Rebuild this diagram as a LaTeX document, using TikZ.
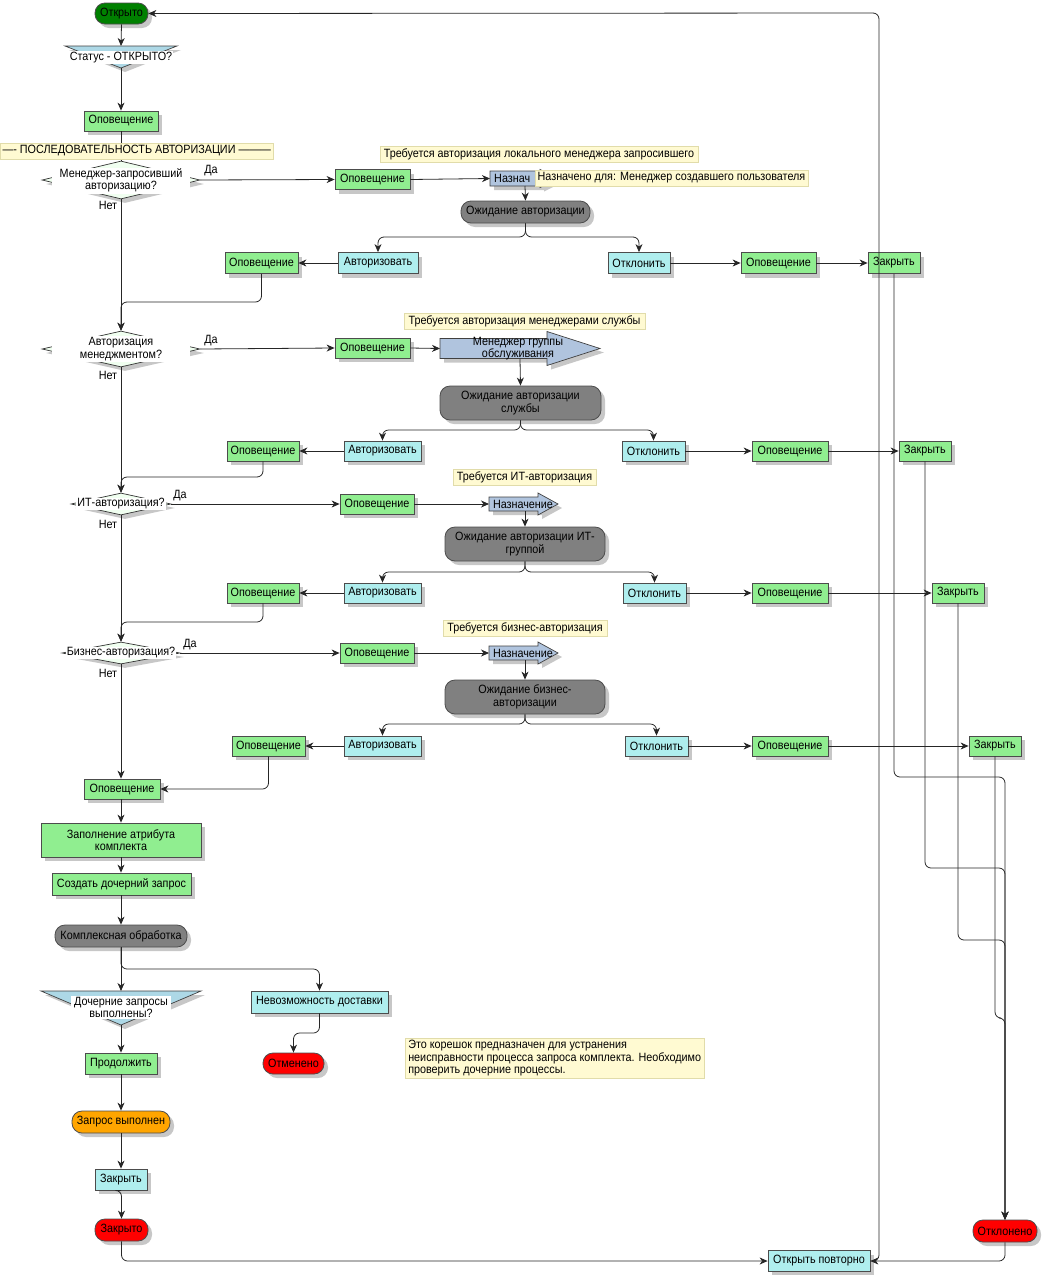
\documentclass[tikz,border=0pt]{standalone}
\usepackage{fontspec}
\setmainfont{Liberation Sans}[FakeStretch=0.9]
\usetikzlibrary{shapes.geometric,shadows,arrows.meta,calc}
\definecolor{dgreen}{RGB}{0,128,0}
\definecolor{lgreen}{RGB}{144,238,144}
\definecolor{pturq}{RGB}{175,238,238}
\definecolor{dgray}{RGB}{128,128,128}
\definecolor{redf}{RGB}{255,0,0}
\definecolor{orf}{RGB}{255,165,0}
\definecolor{lsteel}{RGB}{176,196,222}
\definecolor{lblue}{RGB}{173,216,230}
\definecolor{hdew}{RGB}{240,255,240}
\definecolor{notef}{RGB}{255,250,210}
\definecolor{noteb}{RGB}{225,220,170}
\newcommand\myfs{\fontsize{12}{12.5}\selectfont}
\newcommand\sig[6]{%
 \fill[black!22] ({#1+4},{#4-#5+4}) -- ({#2+4},{#4-#5+4}) -- ({#2+4},{#4-#6+4}) -- ({#3+4},{#4+4}) -- ({#2+4},{#4+#6+4}) -- ({#2+4},{#4+#5+4}) -- ({#1+4},{#4+#5+4}) -- cycle;
 \draw[fill=lsteel, draw=black!75, line width=0.7pt] (#1,{#4-#5}) -- (#2,{#4-#5}) -- (#2,{#4-#6}) -- (#3,#4) -- (#2,{#4+#6}) -- (#2,{#4+#5}) -- (#1,{#4+#5}) -- cycle;}
\begin{document}
\begin{tikzpicture}[x=1pt,y=-1pt,
 wh/.style 2 args={minimum width=#1pt, minimum height=#2pt},
 box/.style={draw=black!70, line width=0.8pt, inner sep=1pt, align=center, font=\myfs,
   drop shadow={shadow xshift=4pt, shadow yshift=-4pt, fill=black!22, opacity=1}},
 gbox/.style={box, fill=lgreen},
 cbox/.style={box, fill=pturq},
 pill/.style={box, rounded corners=10pt},
 gpill/.style={pill, fill=dgray},
 note/.style={draw=noteb, fill=notef, line width=0.5pt, font=\myfs, inner sep=2pt},
 dia/.style={diamond, draw=black!80, fill=hdew, line width=0.7pt, inner sep=0pt,
   drop shadow={shadow xshift=4pt, shadow yshift=-4pt, fill=black!22, opacity=1}},
 dlab/.style={fill=white, inner sep=1pt, font=\myfs, align=center},
 lab/.style={font=\myfs, inner sep=0pt},
 conn/.style={line width=0.8pt, draw=black!85, rounded corners=6pt, -{Stealth[length=8pt,width=7pt,inset=2.5pt]}},
 ln/.style={line width=0.8pt, draw=black!85, rounded corners=6pt}]
\useasboundingbox (0,0) rectangle (1042,1275);

% ---------- main column top
\node[pill, fill=dgreen, wh={53}{21}] (otk) at (121.5,13.5) {Открыто};
\fill[black!22] (69,50) -- (181,50) -- (125,72) -- cycle;
\draw[fill=lblue, draw=black!75, line width=0.7pt] (65,46) -- (177,46) -- (121,68) -- cycle;
\coordinate (stT) at (121,46);
\coordinate (stB) at (121,68);
\node[dlab, minimum width=104pt] (stL) at (121,57.5) {Статус - ОТКРЫТО?};
\node[gbox, wh={74}{20}] (o0) at (121,121) {Оповещение};

% ---------- decision 1
\node[dia, wh={158}{38}] (d1) at (121,180) {};
\node[dlab, wh={138}{26}] (d1l) at (121,180.5) {Менеджер-запросивший\\авторизацию?};
\node[lab] (y1) at (211,171) {Да};
\node[lab] (no1) at (108,205) {Нет};
\node[gbox, wh={75}{20}] (o1) at (372.5,179.5) {Оповещение};
\sig{490}{540}{558}{178.5}{7.5}{9}
\node[lab, anchor=west] (n1) at (494,178.5) {Назнач};
\coordinate (n1w) at (490,178.5);
\coordinate (n1s) at (525,186);
\node[gpill, wh={129}{22}] (w1) at (525.5,212) {Ожидание авторизации};
\node[cbox, wh={80}{21}] (a1) at (378,263) {Авторизовать};
\node[gbox, wh={73}{21}] (o1l) at (261.5,263) {Оповещение};
\node[cbox, wh={62}{21}] (r1) at (639,263) {Отклонить};
\node[gbox, wh={75}{21}] (o1r) at (778.5,263) {Оповещение};
\node[gbox, wh={52}{21}] (z1) at (894,263) {Закрыть};

% ---------- decision 2
\node[dia, wh={158}{36}] (d2) at (121,349) {};
\node[dlab, wh={138}{25}] (d2l) at (121,349) {Авторизация\\менеджментом?};
\node[lab] (y2) at (211,341) {Да};
\node[lab] (no2) at (108,375) {Нет};
\node[gbox, wh={75}{20}] (o2) at (372.5,348) {Оповещение};
\sig{440}{547}{600}{348.5}{10}{17}
\node[lab, align=center] (n2) at (518,348.5) {Менеджер группы\\обслуживания};
\coordinate (n2w) at (440,348.5);
\coordinate (n2s) at (520,359);
\node[gpill, wh={161}{34}, align=center] (w2) at (520.5,403) {Ожидание авторизации\\службы};
\node[cbox, wh={77}{20}] (a2) at (382.5,451) {Авторизовать};
\node[gbox, wh={72}{20}] (o2l) at (263,451) {Оповещение};
\node[cbox, wh={63}{20}] (r2) at (653.5,451) {Отклонить};
\node[gbox, wh={76}{20}] (o2r) at (790,451) {Оповещение};
\node[gbox, wh={52}{20}] (z2) at (925,451) {Закрыть};

% ---------- decision 3
\node[dia, wh={100}{22}] (d3) at (121,504) {};
\node[dlab, minimum width=90pt] (d3l) at (121,504) {ИТ-авторизация?};
\node[lab] (y3) at (180,496) {Да};
\node[lab] (no3) at (108,524) {Нет};
\node[gbox, wh={74}{20}] (o3) at (377,504) {Оповещение};
\sig{489}{538}{558}{504}{7}{11}
\node[lab] (n3) at (523,504) {Назначение};
\coordinate (n3w) at (489,504);
\coordinate (n3s) at (525,511);
\node[gpill, wh={160}{34}] (w3) at (525,544) {Ожидание авторизации ИТ-\\группой};
\node[cbox, wh={77}{20}] (a3) at (382.5,593) {Авторизовать};
\node[gbox, wh={72}{20}] (o3l) at (263,593) {Оповещение};
\node[cbox, wh={63}{20}] (r3) at (654.5,593) {Отклонить};
\node[gbox, wh={76}{20}] (o3r) at (790,593) {Оповещение};
\node[gbox, wh={52}{20}] (z3) at (958,593) {Закрыть};

% ---------- decision 4
\node[dia, wh={118}{22}] (d4) at (121,653) {};
\node[dlab, minimum width=108pt] (d4l) at (121,653) {Бизнес-авторизация?};
\node[lab] (y4) at (190,645) {Да};
\node[lab] (no4) at (108,673) {Нет};
\node[gbox, wh={74}{20}] (o4) at (377,653) {Оповещение};
\sig{489}{538}{558}{653}{7}{11}
\node[lab] (n4) at (523,653) {Назначение};
\coordinate (n4w) at (489,653);
\coordinate (n4s) at (525,660);
\node[gpill, wh={160}{34}] (w4) at (525,697) {Ожидание бизнес-\\авторизации};
\node[cbox, wh={77}{20}] (a4) at (382.5,746) {Авторизовать};
\node[gbox, wh={73}{20}] (o4l) at (268.5,746) {Оповещение};
\node[cbox, wh={63}{20}] (r4) at (656.5,746) {Отклонить};
\node[gbox, wh={76}{20}] (o4r) at (790,746) {Оповещение};
\node[gbox, wh={52}{20}] (z4) at (995,746) {Закрыть};

% ---------- bottom column
\node[gbox, wh={76}{20}] (o5) at (122,789) {Оповещение};
\node[gbox, wh={160}{34}] (fa) at (121,840) {Заполнение атрибута\\комплекта};
\node[gbox, wh={139}{22}] (cr) at (121.5,884) {Создать дочерний запрос};
\node[gpill, wh={132}{22}] (ko) at (121,936) {Комплексная обработка};
\fill[black!22] (45,995) -- (205,995) -- (125,1029) -- cycle;
\draw[fill=lblue, draw=black!75, line width=0.7pt] (41,991) -- (201,991) -- (121,1025) -- cycle;
\coordinate (f2T) at (121,991);
\coordinate (f2B) at (121,1025);
\node[dlab, minimum width=100pt] (f2l) at (121,1007.5) {Дочерние запросы\\выполнены?};
\node[cbox, wh={137}{22}] (nv) at (319.5,1002) {Невозможность доставки};
\node[pill, fill=redf, wh={61}{21}] (ot) at (293.5,1063.5) {Отменено};
\node[gbox, wh={72}{21}] (pr) at (121,1063.5) {Продолжить};
\node[pill, fill=orf, wh={98}{22}] (zv) at (121,1122) {Запрос выполнен};
\node[cbox, wh={52}{21}] (zk) at (121,1179.5) {Закрыть};
\node[pill, fill=redf, wh={53}{22}] (zo) at (121.5,1230) {Закрыто};
\node[cbox, wh={102}{21}] (op) at (819,1261) {Открыть повторно};
\node[pill, fill=redf, wh={64}{22}] (ol) at (1005,1231) {Отклонено};

% ---------- connectors
\draw[conn] (otk.south) -- (stT);
\draw[conn] (stB) -- (o0.north);
\draw[ln] (o0.south) -- (d1.north);
% row 1
\draw[conn] (d1.south) -- (d2.north);
\draw[conn] (d1.east) -- (o1.west);
\draw[conn] (o1.east) -- (n1w);
\draw[conn] (n1s) -- (w1.north);
\draw[conn] (w1.south) -- (525.5,237) -| (a1.north);
\draw[conn] (w1.south) -- (525.5,237) -| (r1.north);
\draw[conn] (a1.west) -- (o1l.east);
\draw[conn] (o1l.south) -- (261.5,302) -- (121,302) -- (d2.north);
\draw[conn] (r1.east) -- (o1r.west);
\draw[conn] (o1r.east) -- (z1.west);
\draw[conn] (z1.south) -- (894,777) -- (1005,777) -- (ol.north);
% row 2
\draw[conn] (d2.south) -- (d3.north);
\draw[conn] (d2.east) -- (o2.west);
\draw[conn] (o2.east) -- (n2w);
\draw[conn] (n2s) -- (w2.north);
\draw[conn] (w2.south) -- (520.5,430) -| (a2.north);
\draw[conn] (w2.south) -- (520.5,430) -| (r2.north);
\draw[conn] (a2.west) -- (o2l.east);
\draw[conn] (o2l.south) -- (263,477) -- (121,477) -- (d3.north);
\draw[conn] (r2.east) -- (o2r.west);
\draw[conn] (o2r.east) -- (z2.west);
\draw[conn] (z2.south) -- (925,868) -- (1005,868) -- (ol.north);
% row 3
\draw[conn] (d3.south) -- (d4.north);
\draw[conn] (d3.east) -- (o3.west);
\draw[conn] (o3.east) -- (n3w);
\draw[conn] (n3s) -- (w3.north);
\draw[conn] (w3.south) -- (525,572) -| (a3.north);
\draw[conn] (w3.south) -- (525,572) -| (r3.north);
\draw[conn] (a3.west) -- (o3l.east);
\draw[conn] (o3l.south) -- (263,622) -- (121,622) -- (d4.north);
\draw[conn] (r3.east) -- (o3r.west);
\draw[conn] (o3r.east) -- (z3.west);
\draw[conn] (z3.south) -- (958,940) -- (1005,940) -- (ol.north);
% row 4
\draw[conn] (d4.south) -- (o5.north -| d4.south);
\draw[conn] (d4.east) -- (o4.west);
\draw[conn] (o4.east) -- (n4w);
\draw[conn] (n4s) -- (w4.north);
\draw[conn] (w4.south) -- (525,724) -| (a4.north);
\draw[conn] (w4.south) -- (525,724) -| (r4.north);
\draw[conn] (a4.west) -- (o4l.east);
\draw[conn] (o4l.south) |- (o5.east);
\draw[conn] (r4.east) -- (o4r.west);
\draw[conn] (o4r.east) -- (z4.west);
\draw[conn] (z4.south) -- (995,1018) -- (1005,1018) -- (ol.north);
% bottom
\draw[conn] (o5.south -| fa.north) -- (fa.north);
\draw[conn] (fa.south) -- (fa.south |- cr.north);
\draw[conn] (cr.south -| ko.north) -- (ko.north);
\draw[conn] (ko.south) -- (f2T);
\draw[conn] (ko.south) -- (121,969) -| (nv.north);
\draw[conn] (nv.south) -- (319.5,1033) -| (ot.north);
\draw[conn] (f2B) -- (pr.north);
\draw[conn] (pr.south) -- (zv.north);
\draw[conn] (zv.south) -- (zk.north);
\draw[conn] (zk.south) -- (zo.south |- zk.south) -- (zo.north);
\draw[conn] (zo.south) -- (121.5,1261) -- (op.west);
\draw[conn] (ol.south) -- (1005,1261) -- (op.east);
\draw[conn] (op.east) -- (879,1261) -- (879,13) -- (otk.east);

% ---------- notes (on top)
\node[note, wh={273}{16}, anchor=west] (ban) at (0,151) {---- ПОСЛЕДОВАТЕЛЬНОСТЬ АВТОРИЗАЦИИ ———};
\node[note, wh={318}{16}] (nt1) at (539,154) {Требуется авторизация локального менеджера запросившего};
\node[note, wh={273}{16}] (nt1b) at (671.5,178) {Назначено для: Менеджер создавшего пользователя};
\node[note, wh={241}{16}] (nt2) at (524.5,321) {Требуется авторизация менеджерами службы};
\node[note, wh={143}{16}] (nt3) at (524.5,477) {Требуется ИТ-авторизация};
\node[note, wh={164}{16}] (nt4) at (525,628) {Требуется бизнес-авторизация};
\node[note, anchor=north west, align=left, minimum height=40pt, inner xsep=3pt] (nt5) at (405,1038) {Это корешок предназначен для устранения\\неисправности процесса запроса комплекта. Необходимо\\проверить дочерние процессы.};
\end{tikzpicture}
\end{document}
